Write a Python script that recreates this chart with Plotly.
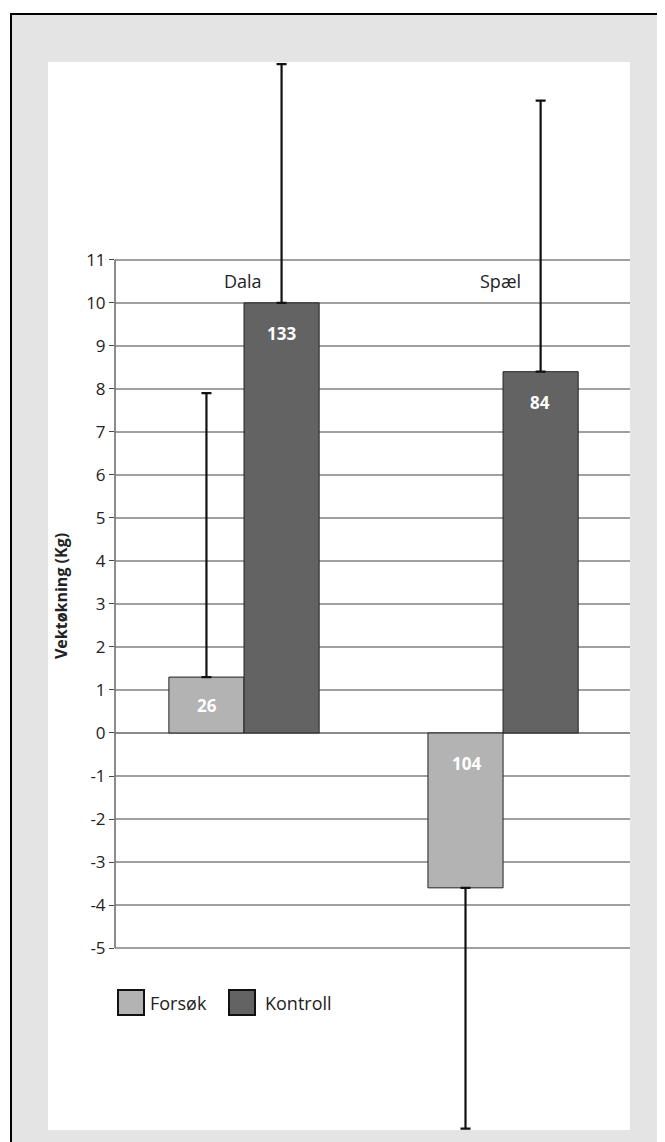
import plotly.graph_objects as go

# ---- data ----
categories = ["Dala", "Spæl"]
series_names = ["Forsøk", "Kontroll"]
forsok_values = [1.3, -3.6]
kontroll_values = [10.0, 8.4]
forsok_err_plus = [6.6, 0.0]
forsok_err_minus = [0.0, 5.6]
kontroll_err_plus = [5.55, 6.3]
kontroll_err_minus = [0.0, 0.0]
forsok_n = ["26", "104"]
kontroll_n = ["133", "84"]
y_ticks = list(range(-5, 12))

# ---- styling ----
FONT = "Open Sans"
PANEL = "#e4e4e4"
C_FORSOK = "#b3b3b3"
C_KONTROLL = "#636363"
TXT = "#222222"

# The page body has an 8px margin; geometry below is given in page pixels.
OFF = 8
W, H = 665 - OFF, 1142 - OFF
L, R, T, B = 115 - OFF, 35, 62 - OFF, 12
PW, PH = W - L - R, H - T - B
PX_PER_UNIT = 43.0


def px_x(p):
    return (p - OFF - L) / PW


def px_y(p):
    return (H - B - (p - OFF)) / PH


fig = go.Figure()
for name, vals, col, ep, em in [
    (series_names[0], forsok_values, C_FORSOK, forsok_err_plus, forsok_err_minus),
    (series_names[1], kontroll_values, C_KONTROLL, kontroll_err_plus, kontroll_err_minus),
]:
    fig.add_trace(go.Bar(
        name=name, x=categories, y=vals, showlegend=False,
        marker=dict(color=col, line=dict(color="#222222", width=1)),
        error_y=dict(type="data", symmetric=False, array=ep, arrayminus=em,
                     color="#111111", thickness=2.2, width=5),
    ))

annotations = []
# category labels near the top, right-aligned next to the Kontroll error bar
for cat in categories:
    annotations.append(dict(x=cat, y=10.5, xref="x", yref="y", text=cat,
                            showarrow=False, xanchor="right", xshift=20,
                            font=dict(family=FONT, size=18, color=TXT)))
# n labels inside bars
for vals, labels, shift in [(forsok_values, forsok_n, -37),
                            (kontroll_values, kontroll_n, 37)]:
    for cat, v, lab in zip(categories, vals, labels):
        top = max(v, 0)
        half_px = abs(v) * PX_PER_UNIT / 2
        annotations.append(dict(x=cat, y=top, xref="x", yref="y",
                                text=f"<b>{lab}</b>", showarrow=False,
                                xshift=shift, yshift=-min(31, half_px),
                                yanchor="middle",
                                font=dict(family=FONT, size=17, color="white")))

shapes = [
    # grey panel inside the frame
    dict(type="rect", xref="paper", yref="paper", x0=px_x(11), x1=px_x(700),
         y0=px_y(1200), y1=px_y(14), fillcolor=PANEL, line=dict(width=0),
         layer="below"),
    # white chart panel (axis labels + plot area)
    dict(type="rect", xref="paper", yref="paper", x0=px_x(48), x1=1, y0=0, y1=1,
         fillcolor="white", line=dict(width=0), layer="below"),
    # y axis line between -5 and 11
    dict(type="line", xref="paper", yref="y", x0=0, x1=0, y0=-5, y1=11,
         line=dict(color="#666666", width=1.5)),
    # outer frame (left and top)
    dict(type="line", xref="paper", yref="paper", x0=px_x(11), x1=px_x(11),
         y0=px_y(13), y1=px_y(1200), line=dict(color="black", width=2)),
    dict(type="line", xref="paper", yref="paper", x0=px_x(10), x1=px_x(700),
         y0=px_y(14), y1=px_y(14), line=dict(color="black", width=2)),
]

# legend (drawn as swatches + labels)
legend_items = [(series_names[0], C_FORSOK, 118, 148),
                (series_names[1], C_KONTROLL, 229, 263)]
for name, col, sx, tx in legend_items:
    shapes.append(dict(type="rect", xref="paper", yref="paper",
                       x0=px_x(sx), x1=px_x(sx + 26), y0=px_y(1015), y1=px_y(990),
                       fillcolor=col, line=dict(color="#111111", width=2)))
    annotations.append(dict(x=px_x(tx), y=px_y(1003), xref="paper", yref="paper",
                            text=name, showarrow=False, xanchor="left",
                            yanchor="middle",
                            font=dict(family=FONT, size=18, color=TXT)))

fig.update_layout(
    width=W, height=H,
    margin=dict(l=L, r=R, t=T, b=B, autoexpand=False),
    paper_bgcolor="white", plot_bgcolor="white",
    barmode="group", bargap=0.42, bargroupgap=0,
    font=dict(family=FONT, size=17, color=TXT),
    showlegend=False,
    annotations=annotations,
    shapes=shapes,
)
fig.update_xaxes(type="category", range=[-0.498, 1.490], showticklabels=False,
                 showgrid=False, zeroline=False, showline=False, ticks="")
fig.update_yaxes(range=[-9.23, 15.60], tickvals=y_ticks,
                 ticktext=[str(t) for t in y_ticks],
                 showgrid=True, gridcolor="#a0a0a0", gridwidth=1.5,
                 zeroline=True, zerolinecolor="#8a8a8a", zerolinewidth=1.5,
                 showline=False, ticks="outside", ticklen=5, tickcolor="#444444",
                 tickfont=dict(family=FONT, size=17, color=TXT),
                 title=dict(text="<b>Vektøkning (Kg)</b>", standoff=14,
                            font=dict(family=FONT, size=16, color=TXT)))

fig.write_html("out.html")
